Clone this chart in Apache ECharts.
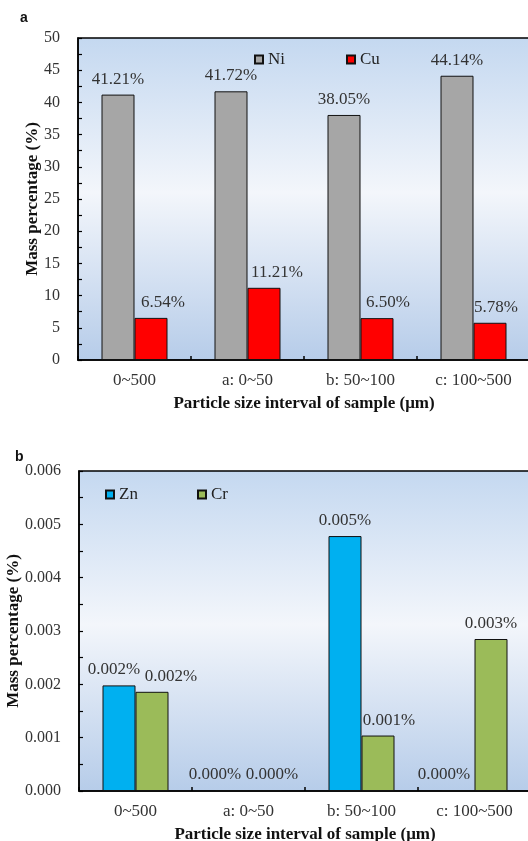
<!DOCTYPE html>
<html>
<head>
<meta charset="utf-8">
<script src="https://cdn.jsdelivr.net/npm/echarts@6/dist/echarts.min.js"></script>
<style>
html,body{margin:0;padding:0;background:#fff;}
#chart{width:528px;height:841px;}
</style>
</head>
<body>
<div id="chart"></div>
<script>
// ---- data ----
const categories = ['0~500', 'a: 0~50', 'b: 50~100', 'c: 100~500'];
const niValues = [41.21, 41.72, 38.05, 44.14];
const cuValues = [6.54, 11.21, 6.50, 5.78];
const znValues = [0.00198, 0, 0.00478, 0];
const crValues = [0.00186, 0, 0.00104, 0.00285];
const yTicksA = [0, 5, 10, 15, 20, 25, 30, 35, 40, 45, 50];
const yTicksB = [0, 0.001, 0.002, 0.003, 0.004, 0.005, 0.006];

// label nudges (style only)
const cuLabelDx = [12, 13, 11, 6];
const znLabelDx = [-5, -17, 0, -14];
const crLabelDx = [19, 7, 11, 0];

const FONT = 'Liberation Serif';
const bgGrad = new echarts.graphic.LinearGradient(0, 0, 0, 1, [
  {offset: 0, color: '#c4d8f0'},
  {offset: 0.48, color: '#f3f6fb'},
  {offset: 1, color: '#b6cce9'}
]);

function withDx(vals, dx) {
  return vals.map((v, i) => ({value: v, label: {offset: [dx ? dx[i] : 0, 0]}}));
}

function xAxis(gridIndex) {
  return {
    type: 'category', gridIndex, data: categories,
    axisLine: {lineStyle: {color: '#000', width: 1.5}},
    axisTick: {show: true, inside: true, length: 4, lineStyle: {color: '#000', width: 1.5}},
    axisLabel: {fontFamily: FONT, fontSize: 17, color: '#333', margin: 12},
    name: 'Particle size interval of sample (μm)', nameLocation: 'middle', nameGap: 35,
    nameMoveOverlap: false,
    nameTextStyle: {fontFamily: FONT, fontSize: 17, fontWeight: 'bold', color: '#111'}
  };
}
function yAxis(gridIndex, ticks, interval, fmt, nameGap) {
  return {
    type: 'value', gridIndex, min: ticks[0], max: ticks[ticks.length - 1], interval,
    axisLine: {show: true, lineStyle: {color: '#000', width: 1.5}},
    axisTick: {show: true, inside: true, length: 4, lineStyle: {color: '#000', width: 1.2}},
    minorTick: {show: true, splitNumber: 2, length: 4, lineStyle: {color: '#000', width: 1.2}},
    splitLine: {show: false},
    axisLabel: {fontFamily: FONT, fontSize: 16, color: '#333', margin: 18, formatter: fmt},
    name: 'Mass percentage (%)', nameLocation: 'middle', nameGap, nameRotate: 90,
    nameMoveOverlap: false,
    nameTextStyle: {fontFamily: FONT, fontSize: 17, fontWeight: 'bold', color: '#111'}
  };
}
function bar(name, vals, dx, color, xi, yi, digits) {
  return {
    name, type: 'bar', xAxisIndex: xi, yAxisIndex: yi,
    data: withDx(vals, dx),
    barWidth: 33, barGap: '0%',
    itemStyle: {color, borderColor: '#111', borderWidth: 1},
    label: {show: true, position: 'top', distance: 7, fontFamily: FONT, fontSize: 17, color: '#333',
      formatter: p => p.value.toFixed(digits) + '%'}
  };
}
function legend(name, left, top) {
  return {
    data: [name], left, top, icon: 'rect', itemWidth: 8, itemHeight: 8, itemGap: 5,
    selectedMode: false,
    textStyle: {fontFamily: FONT, fontSize: 17, color: '#222'}
  };
}

const chart = echarts.init(document.getElementById('chart'), null, {renderer: 'canvas'});
chart.setOption({
  animation: false,
  backgroundColor: '#fff',
  title: [
    {text: 'a', left: 15, top: 6, textStyle: {fontFamily: 'Liberation Sans', fontSize: 14, fontWeight: 'bold', color: '#111'}},
    {text: 'b', left: 10, top: 445, textStyle: {fontFamily: 'Liberation Sans', fontSize: 14, fontWeight: 'bold', color: '#111'}}
  ],
  legend: [
    legend('Ni', 249, 46), legend('Cu', 341, 46),
    legend('Zn', 100, 481), legend('Cr', 192, 481)
  ],
  grid: [
    {left: 78, top: 38, width: 452, height: 322, show: true, backgroundColor: bgGrad, borderColor: '#000', borderWidth: 1.5, outerBoundsMode: 'none', containLabel: false},
    {left: 79, top: 471, width: 452, height: 320, show: true, backgroundColor: bgGrad, borderColor: '#000', borderWidth: 1.5, outerBoundsMode: 'none', containLabel: false}
  ],
  xAxis: [xAxis(0), xAxis(1)],
  yAxis: [
    yAxis(0, yTicksA, 5, v => String(v), 37),
    yAxis(1, yTicksB, 0.001, v => v.toFixed(3), 57)
  ],
  series: [
    bar('Ni', niValues, null, '#a6a6a6', 0, 0, 2),
    bar('Cu', cuValues, cuLabelDx, '#ff0000', 0, 0, 2),
    bar('Zn', znValues, znLabelDx, '#00b0f0', 1, 1, 3),
    bar('Cr', crValues, crLabelDx, '#9bbb59', 1, 1, 3)
  ]
});
</script>
</body>
</html>
